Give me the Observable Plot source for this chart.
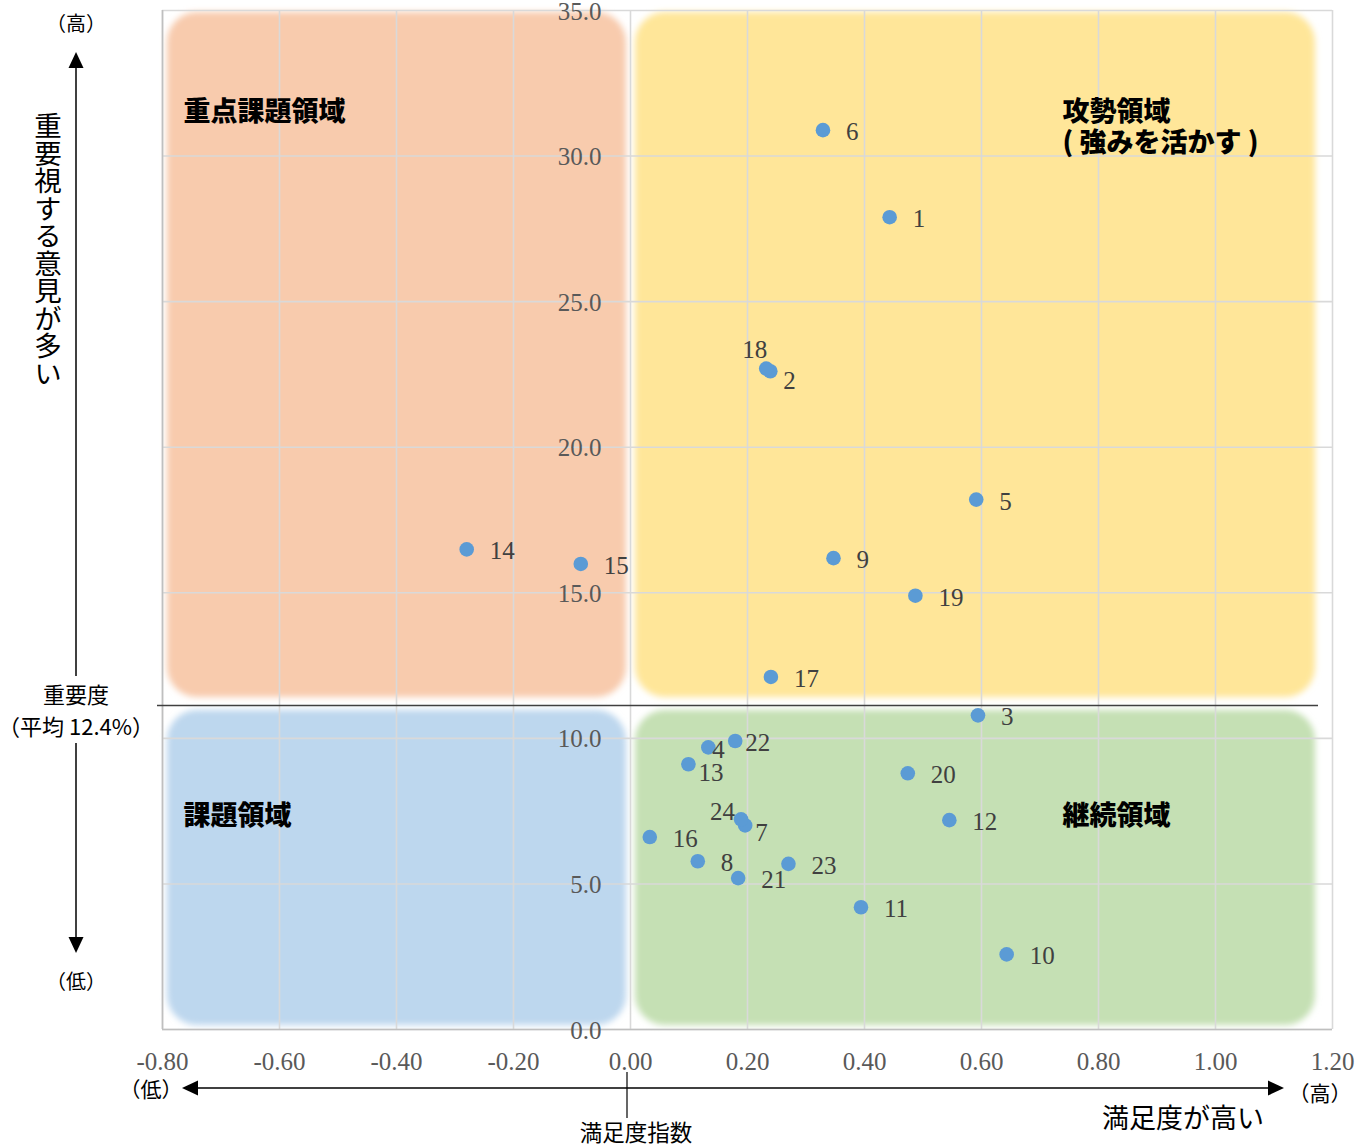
<!DOCTYPE html>
<html><head><meta charset="utf-8">
<script src="https://cdn.jsdelivr.net/npm/d3@7"></script>
<script src="https://cdn.jsdelivr.net/npm/@observablehq/plot@0.6"></script>
<style>
html,body{margin:0;padding:0;background:#fff;overflow:hidden;}
svg{display:block;}
</style>
</head><body><div id="chart"></div>
<script>
// ---- data ----
const ids          = [1, 2, 3, 4, 5, 6, 7, 8, 9, 10, 11, 12, 13, 14, 15, 16, 17, 18, 19, 20, 21, 22, 23, 24];
const satisfaction = [0.443, 0.239, 0.594, 0.133, 0.591, 0.329, 0.196, 0.115, 0.347, 0.643, 0.394, 0.545,
                      0.099, -0.280, -0.085, 0.033, 0.240, 0.232, 0.487, 0.474, 0.184, 0.179, 0.270, 0.189];
const importance   = [27.90, 22.61, 10.79, 9.69, 18.20, 30.89, 7.01, 5.78, 16.19, 2.58, 4.20, 7.19,
                      9.11, 16.49, 15.99, 6.61, 12.11, 22.70, 14.90, 8.80, 5.20, 9.91, 5.69, 7.22];
const xTicks = [-0.8, -0.6, -0.4, -0.2, 0, 0.2, 0.4, 0.6, 0.8, 1.0, 1.2];
const yTicks = [0, 5, 10, 15, 20, 25, 30, 35];
const xDomain = [-0.8, 1.2];
const yDomain = [0, 35];
const importanceAvg = 11.13;
const satisfactionMid = 0;
const quadrantNames  = ["重点課題領域", "攻勢領域\n( 強みを活かす )", "課題領域", "継続領域"];
const quadrantColors = ["#F8CBAD", "#FFE699", "#BDD7EE", "#C5E0B4"];

// ---- layout / style config ----
const labelNudge = { // per-label offsets (px) where default would overlap
  18: {dx: -24, dy: -19},
  2:  {dx: 13,  dy: 10},
  22: {dx: 10,  dy: 2},
  4:  {dx: 4,   dy: 3},
  13: {dx: 10,  dy: 9},
  24: {dx: -31, dy: -7},
  7:  {dx: 10,  dy: 8}
};
const serif = "'Liberation Serif', 'DejaVu Serif', serif";
const jp = "'Noto Sans CJK JP', 'Noto Sans', sans-serif";

const points = ids.map((id, i) => ({id, x: satisfaction[i], y: importance[i]}));
const quads = [
  {x1: xDomain[0], x2: satisfactionMid, y1: importanceAvg, y2: yDomain[1]},
  {x1: satisfactionMid, x2: xDomain[1], y1: importanceAvg, y2: yDomain[1]},
  {x1: xDomain[0], x2: satisfactionMid, y1: yDomain[0], y2: importanceAvg},
  {x1: satisfactionMid, x2: xDomain[1], y1: yDomain[0], y2: importanceAvg}
].map((q, i) => ({...q, label: quadrantNames[i], fill: quadrantColors[i], right: i % 2 === 1, top: i < 2}));

const rectMarks = quads.map(q => Plot.rect([q], {
  x1: "x1", x2: "x2", y1: "y1", y2: "y2", fill: "fill", rx: 30,
  insetLeft: 5, insetRight: q.right ? 17 : 4,
  insetTop: q.top ? 2 : 5, insetBottom: q.top ? 8 : 4,
  className: "quadbg"
}));
const quadLabelMarks = quads.map(q => Plot.text([q], {
  x: "x1", y: "y2", text: "label", textAnchor: "start", lineAnchor: "top",
  dx: q.right ? 432 : 21, dy: q.top ? 88 : 97, lineHeight: 1.16,
  fontFamily: jp, fontWeight: 900, fontSize: 27, fill: "#000"
}));
const defaultLabels = points.filter(p => !labelNudge[p.id]);
const labelMarks = [
  Plot.text(defaultLabels, {x: "x", y: "y", text: "id", textAnchor: "start", dx: 23, dy: 2,
    fontFamily: serif, fontSize: 25, fill: "#404040"}),
  ...points.filter(p => labelNudge[p.id]).map(p => Plot.text([p], {x: "x", y: "y", text: "id",
    textAnchor: "start", dx: labelNudge[p.id].dx, dy: labelNudge[p.id].dy,
    fontFamily: serif, fontSize: 25, fill: "#404040"}))
];

const plot = Plot.plot({
  width: 1367, height: 1147,
  marginLeft: 162, marginRight: 35, marginTop: 10, marginBottom: 118,
  style: {background: "#fff", overflow: "visible"},
  x: {domain: xDomain, axis: null},
  y: {domain: yDomain, axis: null},
  marks: [
    ...rectMarks,
    Plot.gridX(xTicks, {stroke: "#d9d9d9", strokeOpacity: 1, strokeWidth: 1.6}),
    Plot.gridY(yTicks, {stroke: "#d9d9d9", strokeOpacity: 1, strokeWidth: 1.6}),
    Plot.ruleX([xDomain[0]], {stroke: "#bfbfbf", strokeWidth: 1.6}),
    Plot.ruleY([yDomain[0]], {stroke: "#bfbfbf", strokeWidth: 1.6}),
    Plot.ruleY([importanceAvg], {x1: xDomain[0], x2: xDomain[1], insetLeft: -5, insetRight: 14, stroke: "#404040", strokeWidth: 1.5}),
    Plot.text(yTicks, {x: satisfactionMid, y: d => d, text: d => d.toFixed(1), textAnchor: "end", dx: -29, dy: 1,
      fontFamily: serif, fontSize: 25, fill: "#595959"}),
    Plot.text(xTicks, {x: d => d, frameAnchor: "bottom", dy: 40, text: d => d.toFixed(2),
      fontFamily: serif, fontSize: 25, fill: "#595959"}),
    ...quadLabelMarks,
    Plot.dot(points, {x: "x", y: "y", r: 7.3, fill: "#5B9BD5"}),
    ...labelMarks
  ]
});

// blur quadrant backgrounds
const svg = d3.select(plot);
const defs = svg.insert("defs", ":first-child");
defs.append("filter").attr("id", "soft").attr("x", "-5%").attr("y", "-5%").attr("width", "110%").attr("height", "110%")
  .append("feGaussianBlur").attr("stdDeviation", 3);
svg.selectAll(".quadbg").attr("filter", "url(#soft)");

// ---- outside-axis annotations ----
const sx = plot.scale("x");
const g = svg.append("g").attr("font-family", jp).attr("fill", "#000");
const ax = 76;
// vertical arrow
g.append("line").attr("x1", ax).attr("x2", ax).attr("y1", 66).attr("y2", 676).attr("stroke", "#000").attr("stroke-width", 1.5);
g.append("path").attr("d", `M${ax},52 L${ax-7.5},68 L${ax+7.5},68 Z`);
g.append("line").attr("x1", ax).attr("x2", ax).attr("y1", 743).attr("y2", 939).attr("stroke", "#000").attr("stroke-width", 1.5);
g.append("path").attr("d", `M${ax},953 L${ax-7.5},937 L${ax+7.5},937 Z`);
const t = (x, y, s, size, anchor = "middle") => g.append("text").attr("x", x).attr("y", y)
  .attr("text-anchor", anchor).attr("dominant-baseline", "central").attr("font-size", size).text(s);
t(ax, 22, "（高）", 20);
t(ax, 980, "（低）", 20);
t(ax, 693, "重要度", 22);
t(ax, 725, "（平均 12.4%）", 22);
g.append("text").attr("x", 48).attr("y", 112).attr("font-size", 27.5)
  .style("writing-mode", "vertical-rl").attr("text-anchor", "start").text("重要視する意見が多い");
// horizontal arrow
const ay = 1088;
g.append("line").attr("x1", 196).attr("x2", 1270).attr("y1", ay).attr("y2", ay).attr("stroke", "#000").attr("stroke-width", 1.5);
g.append("path").attr("d", `M182,${ay} L198,${ay-7.5} L198,${ay+7.5} Z`);
g.append("path").attr("d", `M1284,${ay} L1268,${ay-7.5} L1268,${ay+7.5} Z`);
t(151, ay, "（低）", 21);
t(1320, ay + 4, "（高）", 21);
t(1183, 1116, "満足度が高い", 27);
const x0 = sx.apply(0) - 3;
g.append("line").attr("x1", x0).attr("x2", x0).attr("y1", 1072).attr("y2", 1118).attr("stroke", "#000").attr("stroke-width", 1.2);
t(636, 1131, "満足度指数", 22.5);

document.getElementById("chart").appendChild(plot);
</script>
</body></html>
